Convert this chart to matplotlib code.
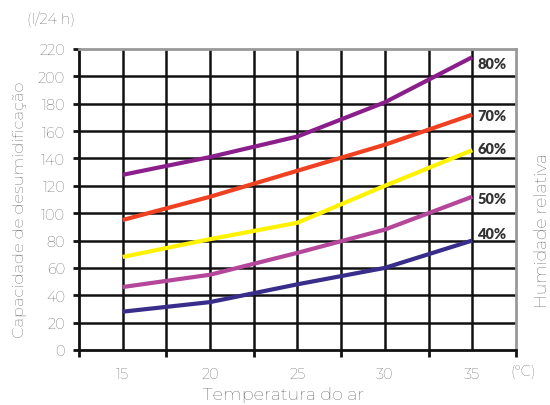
import numpy as np
import matplotlib
matplotlib.use("Agg")
import matplotlib.pyplot as plt

plt.rcParams['font.family'] = ['Montserrat', 'Lato', 'DejaVu Sans']

# --- dados ---
temperatura = [15, 20, 25, 30, 35]
h80 = [128, 141, 156, 181, 214]
h70 = [95, 112, 131, 150, 172]
h60 = [68, 81, 93, 120, 146]
h50 = [46, 55, 71, 88, 112]
h40 = [28, 35, 48, 60, 80]
rotulos = ["80%", "70%", "60%", "50%", "40%"]
cores = ["#8a1f8c", "#ef4122", "#fff200", "#b5479b", "#382d8a"]
# deslocamento vertical dos rótulos em relação ao fim da linha
desloc = [-5, -1, 1, -1, 5]

cinza = "#444444"

fig = plt.figure(figsize=(5.5, 4.06), dpi=100)
ax = fig.add_axes([0.1436, 0.1355, 0.7945, 0.7415])

ax.set_xlim(12.5, 37.5)
ax.set_ylim(0, 220)

# grelha
for xv in np.arange(15, 37.5, 2.5):
    ax.axvline(xv, color="#111111", lw=1.8, zorder=1)
for yv in range(20, 220, 20):
    ax.axhline(yv, color="#111111", lw=1.8, zorder=1)

for serie, lab, c, d in zip([h80, h70, h60, h50, h40], rotulos, cores, desloc):
    ax.plot(temperatura, serie, color=c, lw=3, solid_capstyle='butt', zorder=3)
    ax.text(35.3, serie[-1] + d, lab, color="#333333", fontsize=10.5,
            family=['Lato', 'DejaVu Sans'], fontweight='heavy',
            ha='left', va='center', zorder=4)

ax.spines['left'].set_color("#111111")
ax.spines['left'].set_linewidth(2)
ax.spines['bottom'].set_color("#111111")
ax.spines['bottom'].set_linewidth(2)
ax.spines['top'].set_color("#999999")
ax.spines['top'].set_linewidth(2)
ax.spines['right'].set_color("#999999")
ax.spines['right'].set_linewidth(2)

ax.set_yticks(range(0, 221, 20))
ax.tick_params(axis='y', colors="#111111", labelcolor=cinza, labelsize=10.5,
               length=4, width=2, pad=6)
ax.set_xticks([12.5, 17.5, 22.5, 27.5, 32.5, 37.5])
ax.set_xticklabels([])
ax.tick_params(axis='x', colors="#111111", length=5, width=2)
ax.set_xticks([15, 20, 25, 30, 35], minor=True)
ax.set_xticklabels(["15", "20", "25", "30", "35"], minor=True)
ax.tick_params(axis='x', which='minor', length=0, labelcolor=cinza,
               labelsize=10.5, pad=12)
ax.text(37.9, -15.5, "(°C)", color=cinza, fontsize=10.5, ha='center', va='center')

t_x = fig.text(0.516, 0.027, "Temperatura do ar", color=cinza, fontsize=11,
               ha='center', va='center')
t_y = fig.text(0.036, 0.483, "Capacidade de desumidificação", color=cinza, fontsize=11,
               rotation=90, ha='center', va='center')
fig.text(0.092, 0.952, "(l/24 h)", color=cinza, fontsize=10.5, ha='center', va='center')
t_h = fig.text(0.985, 0.433, "Humidade relativa", color=cinza, fontsize=11,
               rotation=90, ha='center', va='center')

# ajustar o tamanho dos títulos ao comprimento medido na referência (px)
fig.canvas.draw()
r = fig.canvas.get_renderer()
for t, alvo, vertical in [(t_x, 162, False), (t_y, 255, True), (t_h, 155, True)]:
    bb = t.get_window_extent(r)
    comp = bb.height if vertical else bb.width
    t.set_fontsize(11 * alvo / comp)

fig.savefig("out.png", dpi=100)
